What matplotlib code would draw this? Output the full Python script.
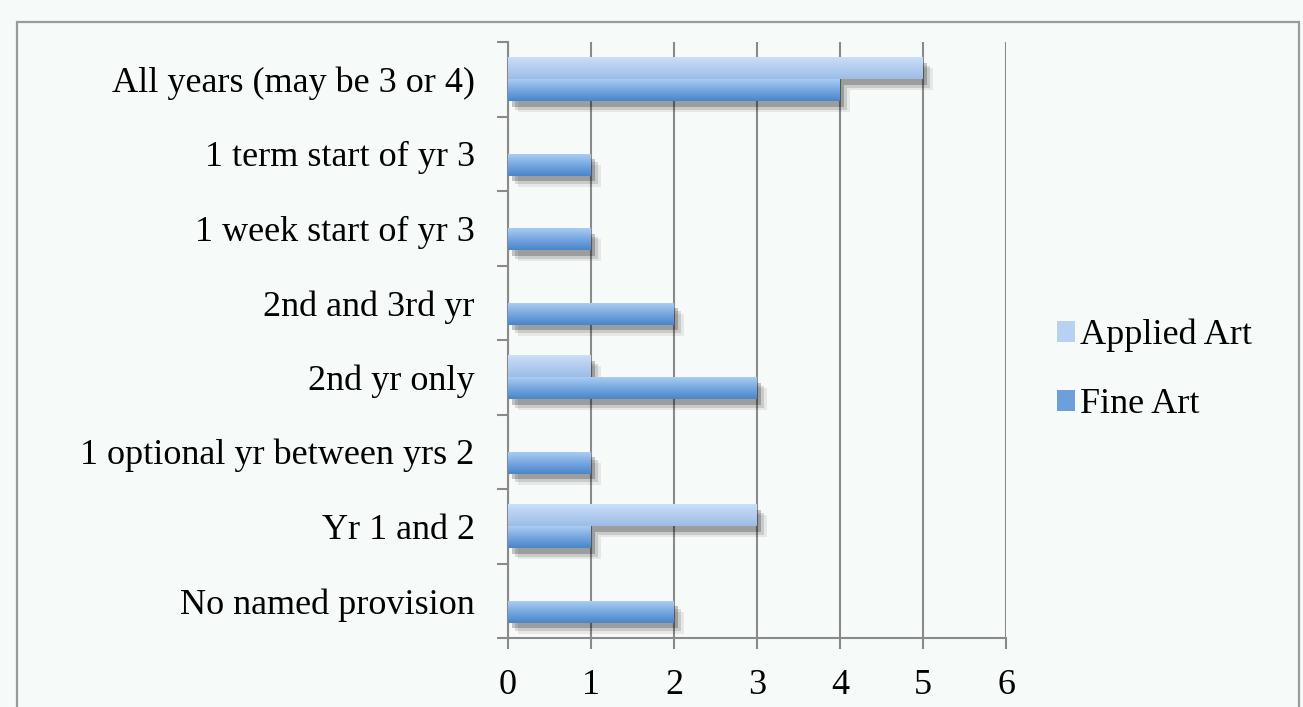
import numpy as np
import matplotlib
matplotlib.use("Agg")
import matplotlib.pyplot as plt
from matplotlib.patches import Rectangle, Patch
import matplotlib.patheffects as pe
from matplotlib.colors import LinearSegmentedColormap

categories = ["All years (may be 3 or 4)", "1 term start of yr 3", "1 week start of yr 3",
              "2nd and 3rd yr", "2nd yr only", "1 optional yr between yrs 2",
              "Yr 1 and 2", "No named provision"]
applied_art = [5, 0, 0, 0, 1, 0, 3, 0]
fine_art = [4, 1, 1, 2, 3, 1, 1, 2]
x_ticks = [0, 1, 2, 3, 4, 5, 6]
series_names = ["Applied Art", "Fine Art"]

BG = "#F6FAF8"
plt.rcParams['font.family'] = ['Liberation Serif', 'DejaVu Serif']

W, H = 1303, 707
fig = plt.figure(figsize=(W / 100, H / 100), dpi=100, facecolor=BG)
ax = fig.add_axes([508 / W, 1 - 638 / H, (1006 - 508) / W, (638 - 42) / H])
ax.set_facecolor(BG)

# outer frame
fig.patches.append(Rectangle((17 / W, -0.05), (1299 - 17) / W, 1 - 22 / H + 0.05,
                             transform=fig.transFigure, fill=False,
                             edgecolor="#9a9c9a", linewidth=1.6, zorder=0))

n = len(categories)
y = np.arange(n)[::-1].astype(float)
bh = 0.295

cmap_app = LinearSegmentedColormap.from_list("app", ["#cadff8", "#b3cdf0", "#9dbde6"])
cmap_fine = LinearSegmentedColormap.from_list("fine", ["#a9cdf3", "#76a7e0", "#4a85c9"])

shadow = [pe.SimplePatchShadow(offset=(7, -8), shadow_rgbFace="#000000", alpha=0.07),
          pe.SimplePatchShadow(offset=(5, -6), shadow_rgbFace="#000000", alpha=0.12),
          pe.SimplePatchShadow(offset=(3, -4), shadow_rgbFace="#000000", alpha=0.22),
          pe.Normal()]

grad = np.linspace(0, 1, 64).reshape(-1, 1)

def draw(vals, offs, cmap, z):
    bars = ax.barh(y + offs, vals, height=bh, color=cmap(0.5), zorder=z,
                   edgecolor="none")
    for b in bars:
        if b.get_width() <= 0:
            b.set_visible(False)
            continue
        b.set_path_effects(shadow)
        x0, y0 = b.get_x(), b.get_y()
        w, h = b.get_width(), b.get_height()
        ax.imshow(grad, cmap=cmap, extent=(x0, x0 + w, y0, y0 + h), aspect="auto",
                  zorder=z + 0.5, interpolation="bilinear", origin="upper")
    return bars

draw(applied_art, bh / 2, cmap_app, 3)
draw(fine_art, -bh / 2, cmap_fine, 5)

ax.set_xlim(0, 6)
ax.set_ylim(-0.5, n - 0.5)
ax.set_xticks(x_ticks)
ax.set_xticklabels([str(t) for t in x_ticks])
ax.set_yticks(y)
ax.set_yticklabels(categories)
ax.set_yticks(np.arange(n + 1) - 0.5, minor=True)

for s in ["top", "right"]:
    ax.spines[s].set_visible(False)
for s in ["left", "bottom"]:
    ax.spines[s].set_color("#8a8a8a")
    ax.spines[s].set_linewidth(1.5)

ax.grid(axis="x", color="#8a8a8a", linewidth=1.5, zorder=1)
ax.set_axisbelow(True)

ax.tick_params(axis="y", which="major", length=0, pad=24, labelsize=26)
ax.tick_params(axis="y", which="minor", length=8, width=1.5, color="#8a8a8a")
ax.tick_params(axis="x", which="major", length=8, width=1.5, color="#8a8a8a",
               pad=14, labelsize=26)

handles = [Patch(facecolor=cmap_app(0.4), edgecolor="none"),
           Patch(facecolor=cmap_fine(0.6), edgecolor="none")]
fig.legend(handles, series_names, loc="center left", bbox_to_anchor=(1024 / W, 1 - 370 / H),
           frameon=False, fontsize=26, handlelength=0.5, handleheight=0.5,
           handletextpad=0.15, labelspacing=1.0)

fig.savefig("out.png", dpi=100, facecolor=BG)
